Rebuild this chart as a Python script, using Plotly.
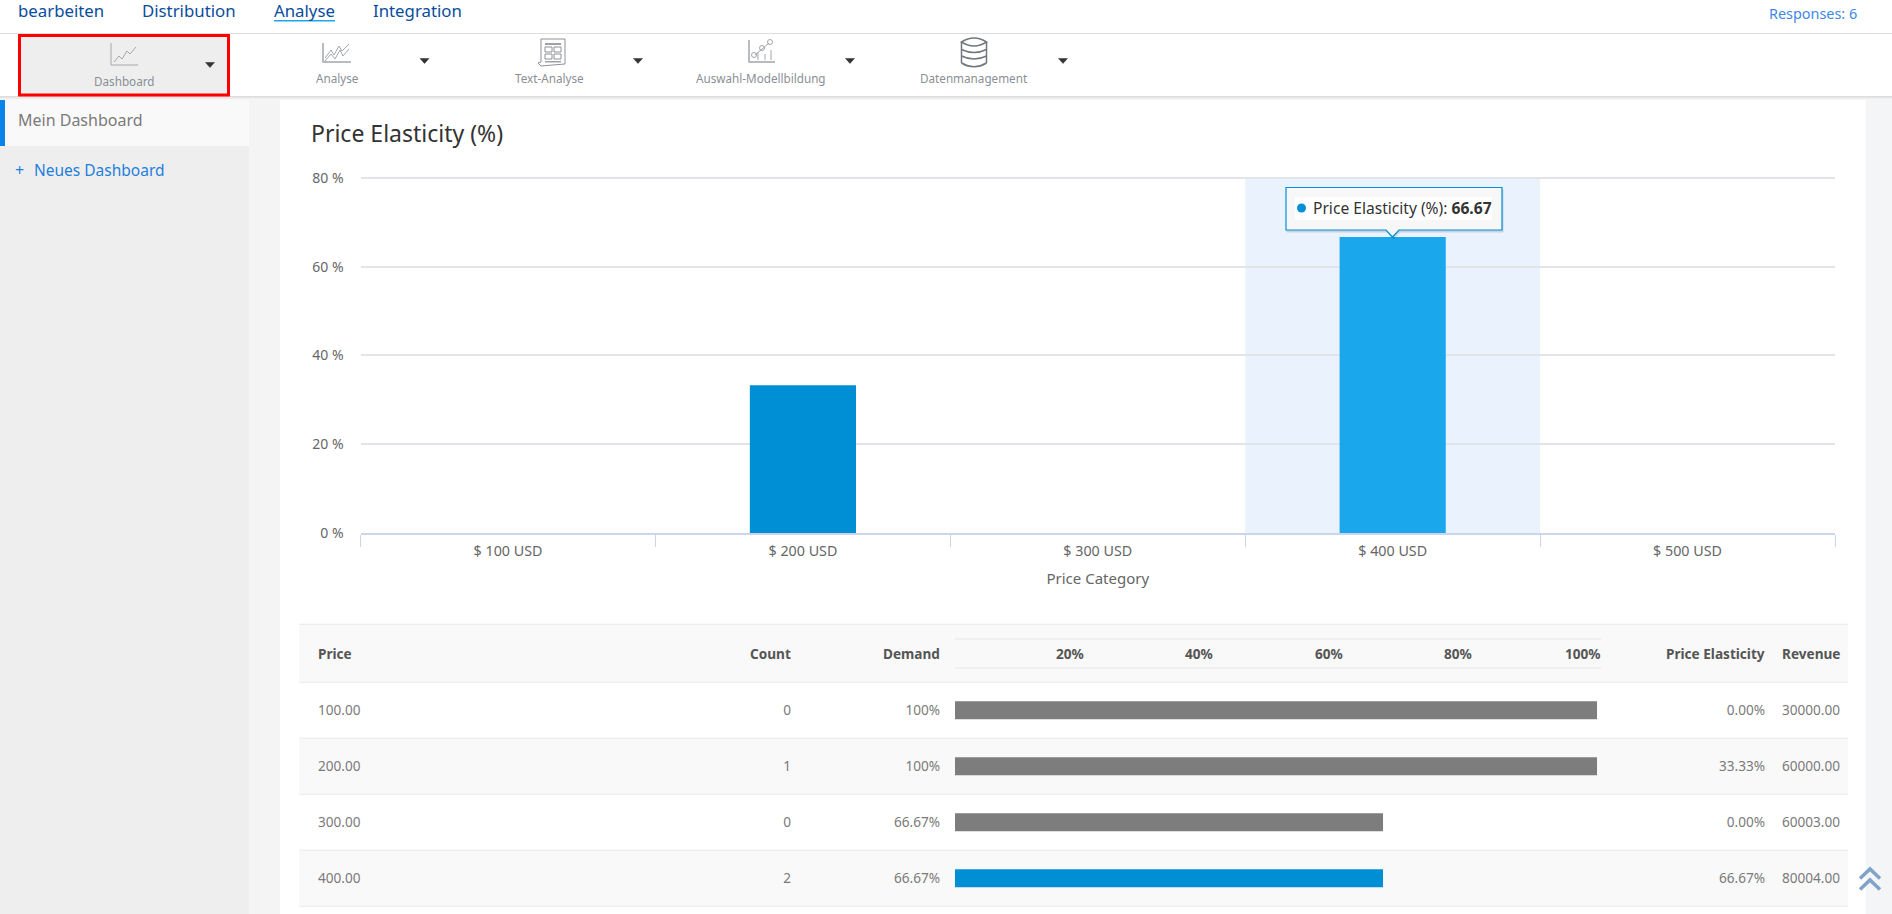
import plotly.graph_objects as go

W, H = 1892, 914
FONT = "Noto Sans"

# ---- data
categories = ["$ 100 USD", "$ 200 USD", "$ 300 USD", "$ 400 USD", "$ 500 USD"]
elasticity = [0, 33.33, 0, 66.67, 0]
bar_colors = ["#008fd5", "#008fd5", "#008fd5", "#1aa7ec", "#008fd5"]
y_ticks = [0, 20, 40, 60, 80]

prices = ["100.00", "200.00", "300.00", "400.00"]
counts = ["0", "1", "0", "2"]
demand = [100, 100, 66.67, 66.67]
demand_labels = ["100%", "100%", "66.67%", "66.67%"]
demand_colors = ["#7d7d7d", "#7d7d7d", "#7d7d7d", "#008fd5"]
row_elasticity = ["0.00%", "33.33%", "0.00%", "66.67%"]
revenue = ["30000.00", "60000.00", "60003.00", "80004.00"]
demand_ticks = [20, 40, 60, 80, 100]

nav_items = ["bearbeiten", "Distribution", "Analyse", "Integration"]
tool_items = ["Dashboard", "Analyse", "Text-Analyse", "Auswahl-Modellbildung", "Datenmanagement"]


def X(p):
    return p / W


def Y(p):
    return 1 - p / H


shapes = []
annotations = []


def rect(x0, y0, x1, y1, fill, line=None, lw=0, opacity=1):
    shapes.append(dict(type="rect", xref="paper", yref="paper", x0=X(x0), x1=X(x1), y0=Y(y0), y1=Y(y1),
                       fillcolor=fill, opacity=opacity, layer="below",
                       line=dict(color=line or fill, width=lw)))


def pts(points, close=False):
    s = "M" + " L".join(f"{X(a):.5f},{Y(b):.5f}" for a, b in points)
    return s + (" Z" if close else "")


def poly(points, color, lw=1.0, fill=None, close=False, layer="below", opacity=1):
    shapes.append(dict(type="path", xref="paper", yref="paper", path=pts(points, close),
                       fillcolor=fill or "rgba(0,0,0,0)", opacity=opacity, layer=layer,
                       line=dict(color=color, width=lw)))


def text(x, y, s, size=13, color="#666666", anchor="left", family=FONT):
    annotations.append(dict(x=X(x), y=Y(y), xref="paper", yref="paper", text=s,
                            showarrow=False, xanchor=anchor, yanchor="middle",
                            font=dict(size=size, color=color, family=family),
                            borderpad=0, borderwidth=0))


# ---- page chrome
rect(0, 96, 249, H, "#eeeeee")
rect(249, 96, 280, H, "#f4f4f4")
rect(1866, 96, W, H, "#f4f5f6")
rect(0, 96, 249, 146, "#f9f9f9")
rect(0, 96, 5, 146, "#0a84e8")
rect(0, 33, W, 34, "#dddddd")
for i, c in enumerate(["#dcdcdc", "#e6e6e6", "#eeeeee", "#f6f6f6"]):
    rect(0, 96 + i, W, 97 + i, c)
rect(19.5, 35.5, 228.5, 95, "#eeeeee", "#ff0000", 3)

# top navigation
nav_x = [18, 142, 274, 372.6]
for x, s in zip(nav_x, nav_items):
    text(x, 10.5, s, size=16.8, color="#0a4d9c")
rect(274, 20, 335, 21.5, "#1aa7ec")
text(1857, 14, "Responses: 6", size=14.4, color="#3f87e6", anchor="right")

# toolbar labels and carets
tool_x = [124, 337, 549, 761, 974]
tool_y = [81, 78, 78, 78, 78]
caret_x = [210, 424.5, 638, 850, 1063]
caret_y = [65, 61, 61, 61, 61]
for x, y, s in zip(tool_x, tool_y, tool_items):
    text(x, y, s, size=11.7, color="#8a8f95", anchor="center")
for x, y in zip(caret_x, caret_y):
    poly([(x - 4.5, y - 2.5), (x + 4.5, y - 2.5), (x, y + 2.5)], "#333333", 0.5, fill="#333333", close=True)

ICON = "#a3a7ab"
# Dashboard icon
poly([(111, 43), (111, 65), (138, 65)], ICON, 1)
poly([(114, 62), (119, 56), (122, 59), (127, 51), (130, 54), (136, 47)], ICON, 1)
# Analyse icon
poly([(323, 43), (323, 62), (351, 62)], ICON, 1.5)
poly([(325, 58), (331, 50), (334, 55), (339, 46), (342, 51), (349, 44)], ICON, 1)
poly([(325, 61), (331, 54), (335, 59), (340, 50), (343, 56), (349, 49)], ICON, 1)
# Text-Analyse icon
poly([(541, 39), (565, 39), (565, 64), (541, 66), (538, 63), (541, 62), (541, 39)], "#8d9196", 1)
rect(545, 43, 561, 45, "#9ea2a6")
rect(545, 47, 552, 52, "#ffffff", "#8d9196", 1)
rect(554, 47, 561, 52, "#ffffff", "#8d9196", 1)
rect(545, 54, 552, 59, "#ffffff", "#8d9196", 1)
rect(554, 54, 561, 59, "#ffffff", "#8d9196", 1)
rect(545, 61, 561, 62.5, "#9ea2a6")
# Auswahl-Modellbildung icon
poly([(749, 40), (749, 62), (775, 62)], ICON, 1.5)
poly([(755, 55), (762, 49), (769, 43)], ICON, 1)
for a, b in [(754, 55), (762, 48), (770, 42)]:
    shapes.append(dict(type="circle", xref="paper", yref="paper", x0=X(a - 2.5), x1=X(a + 2.5), y0=Y(b + 2.5),
                       y1=Y(b - 2.5), line=dict(color=ICON, width=1), layer="below"))
for a, b in [(758, 52), (765, 54), (771, 50)]:
    poly([(a, b), (a, 60)], ICON, 1)
# Datenmanagement icon
DB = "#70767c"
dbl, dbr = 961.5, 986.5


def arc(y, depth=4):
    return f"M{X(dbl):.5f},{Y(y):.5f} Q{X((dbl + dbr) / 2):.5f},{Y(y + depth):.5f} {X(dbr):.5f},{Y(y):.5f}"


shapes.append(dict(type="path", xref="paper", yref="paper", layer="below", line=dict(color=DB, width=1.5),
                   path=f"M{X(dbl):.5f},{Y(42):.5f} Q{X(974):.5f},{Y(34):.5f} {X(dbr):.5f},{Y(42):.5f} "
                        f"Q{X(974):.5f},{Y(50):.5f} {X(dbl):.5f},{Y(42):.5f} Z"))
poly([(dbl, 42), (dbl, 63)], DB, 1.5)
poly([(dbr, 42), (dbr, 63)], DB, 1.5)
for yy, d in [(49.5, 6), (56, 6), (63, 7.5)]:
    shapes.append(dict(type="path", xref="paper", yref="paper", layer="below", line=dict(color=DB, width=1.5),
                       path=arc(yy, d)))

# sidebar and title
text(17.5, 120, "Mein Dashboard", size=16, color="#7a7a7a")
text(15, 170, "+", size=16, color="#1f7fdd")
text(33.5, 170, "Neues Dashboard", size=15.5, color="#1f7fdd")
text(311, 133, "Price Elasticity (%)", size=23, color="#333333")

# ---- highlighted band (in data coordinates of the chart)
hi = categories.index("$ 400 USD")
shapes.append(dict(type="rect", xref="x", yref="y", x0=hi - 0.5, x1=hi + 0.5, y0=0, y1=80,
                   fillcolor="#eaf2fd", line=dict(width=0), layer="below"))

# ---- tooltip
tip = [(1286, 187.5), (1502, 187.5), (1502, 230), (1399, 230), (1392.5, 237), (1386, 230), (1286, 230)]
poly([(a + 1, b + 2) for a, b in tip], "#000000", 1, fill="#000000", close=True, layer="above", opacity=0.12)
poly(tip, "#0090d7", 1.2, fill="#f7f7f7", close=True, layer="above")
shapes.append(dict(type="rect", xref="paper", yref="paper", x0=X(1295), x1=X(1492), y0=Y(220), y1=Y(197),
                   fillcolor="#ffffff", line=dict(width=0), layer="above"))
shapes.append(dict(type="circle", xref="paper", yref="paper", x0=X(1297), x1=X(1306), y0=Y(212.5), y1=Y(203.5),
                   fillcolor="#0090d7", line=dict(width=0), layer="above"))
text(1312.5, 208, f'Price Elasticity (%): <b>{elasticity[hi]}</b>', size=15.6, color="#333333")

# ---- table backgrounds and rules
rule_y = [624.3, 682.3, 738.3, 794.3, 850.3, 906.3]
rect(299, rule_y[0], 1848, rule_y[1], "#f9f9f9")
rect(299, rule_y[2], 1848, rule_y[3], "#f9f9f9")
rect(299, rule_y[4], 1848, rule_y[5], "#f9f9f9")
for ry in rule_y:
    rect(299, ry - 0.5, 1848, ry + 0.5, "#e8e8e8")
rect(955, 638.5, 1601, 639.5, "#e8e8e8")
rect(955, 667.5, 1601, 668.5, "#e8e8e8")

# table header
HD = "#555555"
HS = 13.6
text(318, 653, "<b>Price</b>", size=HS, color=HD)
text(791, 653, "<b>Count</b>", size=HS, color=HD, anchor="right")
text(940, 653, "<b>Demand</b>", size=HS, color=HD, anchor="right")
text(1765, 653, "<b>Price Elasticity</b>", size=HS, color=HD, anchor="right")
text(1840, 653, "<b>Revenue</b>", size=HS, color=HD, anchor="right")
for t in demand_ticks:
    text(955 + t * 6.46, 653, f"<b>{t}%</b>", size=HS, color=HD, anchor="right")

# scroll-to-top chevrons
CH = "#7fa3c9"
poly([(1860, 878.5), (1870, 869), (1880, 878.5)], CH, 3.5, layer="above")
poly([(1860, 889.5), (1870, 880), (1880, 889.5)], CH, 3.5, layer="above")

# ---- figure
fig = go.Figure()
fig.add_trace(go.Bar(x=categories, y=elasticity, width=0.36, marker=dict(color=bar_colors, line=dict(width=0)),
                     xaxis="x", yaxis="y", showlegend=False, hoverinfo="skip"))
fig.add_trace(go.Bar(y=prices, x=demand, orientation="h", width=18 / 56,
                     marker=dict(color=demand_colors, line=dict(width=0)),
                     xaxis="x2", yaxis="y2", showlegend=False, hoverinfo="skip"))

# table cell columns: text traces on a page-wide x axis, rows on a category axis matching the table rows
CELL = "#7a7a7a"
columns = [(318, prices, "middle right"), (791, counts, "middle left"), (940, demand_labels, "middle left"),
           (1765, row_elasticity, "middle left"), (1840, revenue, "middle left")]
for col_x, col_text, pos in columns:
    fig.add_trace(go.Scatter(x=[col_x] * len(prices), y=prices, mode="text", text=col_text, textposition=pos,
                             textfont=dict(size=13.6, color=CELL, family=FONT), xaxis="x3", yaxis="y3",
                             showlegend=False, hoverinfo="skip", cliponaxis=False))

PX_PER_PCT = (533.3 - 177.7) / 80
fig.update_layout(
    template="none",
    width=W, height=H, margin=dict(l=0, r=0, t=0, b=0, pad=0),
    paper_bgcolor="#ffffff", plot_bgcolor="rgba(0,0,0,0)",
    font=dict(family=FONT, size=13, color="#666666"),
    shapes=shapes, annotations=annotations, showlegend=False,
    xaxis=dict(domain=[X(360.6), X(1835)], anchor="y", type="category", categoryorder="array",
               categoryarray=categories, tickson="boundaries", ticks="outside", ticklen=12, tickwidth=1,
               tickcolor="#ccd6eb", showline=True, linecolor="#ccd6eb", linewidth=1.5, showgrid=False,
               automargin=False, ticklabelstandoff=4, tickfont=dict(size=14.3, color="#666666", family=FONT),
               title=dict(text="Price Category", font=dict(size=15, color="#666666", family=FONT), standoff=14),
               fixedrange=True),
    yaxis=dict(domain=[Y(533.3), Y(177.7 - 0.5 * PX_PER_PCT)], anchor="x", range=[0, 80.5], tickmode="array",
               tickvals=y_ticks, ticktext=[f"{v} %" for v in y_ticks], ticks="", ticklabelstandoff=16, showgrid=True,
               gridcolor="#e2e4e8", gridwidth=1.5, zeroline=False, showline=False, automargin=False,
               tickfont=dict(size=14, color="#666666", family=FONT), fixedrange=True),
    xaxis2=dict(domain=[X(955), X(1601)], anchor="y2", range=[0, 100.62], visible=False, fixedrange=True),
    yaxis2=dict(domain=[Y(906.3), Y(682.3)], anchor="x2", type="category", categoryorder="array",
                categoryarray=prices, range=[3.5, -0.5], visible=False, fixedrange=True),
    xaxis3=dict(domain=[0, 1], anchor="y3", range=[0, W], visible=False, fixedrange=True),
    yaxis3=dict(domain=[Y(907.3), Y(683.3)], anchor="x3", type="category", categoryorder="array",
                categoryarray=prices, range=[3.5, -0.5], visible=False, fixedrange=True),
)

fig.write_html("out.html", config=dict(displayModeBar=False),
               post_script="document.body.style.margin='0';document.documentElement.style.overflow='hidden';")
